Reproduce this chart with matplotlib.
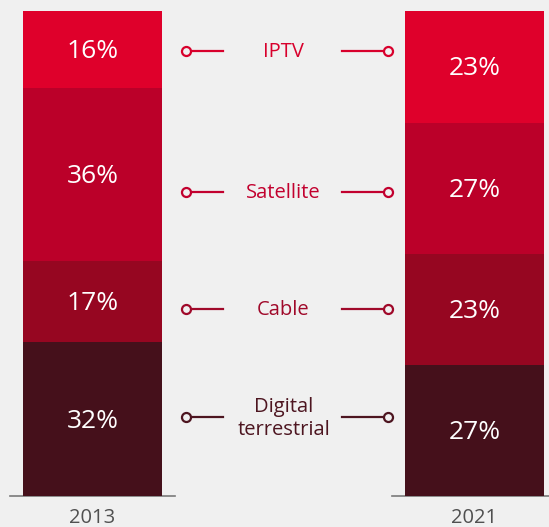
import matplotlib
matplotlib.use("Agg")
import matplotlib.pyplot as plt
import numpy as np

years = ["2013", "2021"]
categories = ["Digital\nterrestrial", "Cable", "Satellite", "IPTV"]
values_2013 = [32, 17, 36, 16]
values_2021 = [27, 23, 27, 23]

seg_colors = ["#45101b", "#960621", "#bb0029", "#df002b"]
label_colors = ["#4d1520", "#a0092a", "#c2002e", "#d8002c"]
label_y = [16.2, 38.5, 62.7, 91.7]

BG = "#f0f0f0"
plt.rcParams["font.family"] = ["Open Sans", "DejaVu Sans"]

fig = plt.figure(figsize=(5.49, 5.27), dpi=100, facecolor=BG)
ax = fig.add_axes([0, 31 / 527, 1, 485 / 527])
ax.set_facecolor(BG)
ax.set_xlim(-92.5 / 382, 1 + (549 - 474.5) / 382)
ax.set_ylim(0, 100)
ax.axis("off")

width = 139 / 382
for xi, vals in enumerate([values_2013, values_2021]):
    vals = np.array(vals, dtype=float)
    shares = vals / vals.sum() * 100
    bottoms = np.concatenate([[0], np.cumsum(shares)[:-1]])
    ax.bar([xi] * len(vals), shares, width=width, bottom=bottoms,
           color=seg_colors, edgecolor="none", zorder=2)
    for v, s, b in zip(vals, shares, bottoms):
        ax.annotate(f"{int(v)}%", (xi, b + s / 2), xytext=(0, -1.5),
                    textcoords="offset points", ha="center", va="center",
                    color="white", fontsize=19, zorder=3)
    ax.text(xi, -2.4, years[xi], ha="center", va="top", color="#505050",
            fontsize=14.5, clip_on=False)
    # baseline under each bar
    ax.plot([xi - 82.5 / 382, xi + 82.5 / 382], [0, 0], color="#7a7a7a",
            lw=1.2, clip_on=False, zorder=1)

# connector labels
xl0, xl1 = (186 - 92.5) / 382, (223 - 92.5) / 382
xr0, xr1 = (342 - 92.5) / 382, (388 - 92.5) / 382
for cat, c, y in zip(categories, label_colors, label_y):
    ax.annotate(cat, (0.5, y), xytext=(0, -0.8), textcoords="offset points",
                ha="center", va="center", color=c, fontsize=14.5,
                linespacing=1.2)
    ax.plot([xl0, xl1], [y, y], color=c, lw=1.6, zorder=2)
    ax.plot([xr0, xr1], [y, y], color=c, lw=1.6, zorder=2)
    ax.plot([xl0, xr1], [y, y], ls="none", marker="o", ms=6.5, mfc=BG,
            mec=c, mew=1.6, zorder=3)

fig.savefig("out.png", dpi=100, facecolor=BG)
